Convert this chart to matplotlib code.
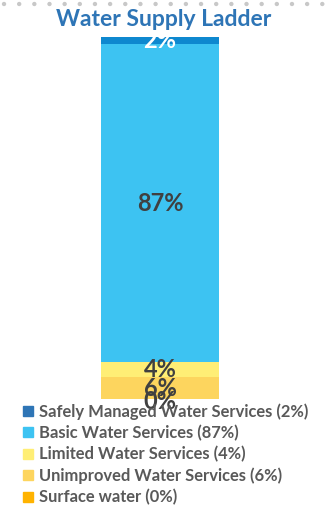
import matplotlib
matplotlib.use("Agg")
import matplotlib.pyplot as plt
from matplotlib.lines import Line2D

categories = ["Safely Managed Water Services", "Basic Water Services",
              "Limited Water Services", "Unimproved Water Services", "Surface water"]
values = [2, 87, 4, 6, 0]
bar_colors = ["#0E88CF", "#3DC3F2", "#FFEE75", "#FDD55E", "#FFB300"]
legend_colors = ["#2E75B6", "#3DC3F2", "#FFEE75", "#FDD55E", "#FFB300"]
label_colors = ["white", "#404040", "#404040", "#404040", "#404040"]

plt.rcParams['font.family'] = ['Lato', 'DejaVu Sans']

W, H = 328, 508
fig = plt.figure(figsize=(W / 100, H / 100), dpi=100)

# dotted top rule
fig.add_artist(Line2D([4 / W, 324 / W], [1 - 4 / H, 1 - 4 / H], transform=fig.transFigure,
                      color="#C8C8C8", lw=3.2, linestyle=(0, (0.01, 3.4)),
                      solid_capstyle="round", dash_capstyle="round"))

fig.text(164 / W, 1 - 19 / H, "Water Supply Ladder", ha="center", va="center",
         fontsize=16.5, fontweight="bold", color="#2E75B6")

ax = fig.add_axes([101 / W, 1 - 399 / H, 118 / W, 362 / H])
stack_order = list(reversed(range(len(values))))  # bottom: surface water
bottom = 0
total = sum(values)
for i in stack_order:
    ax.bar(0, values[i], width=1, bottom=bottom, color=bar_colors[i], linewidth=0)
    y = bottom + values[i] / 2
    off = -0.8 if values[i] == 0 else 0
    ax.text(0, y + off, f"{values[i]}%", ha="center", va="center",
            fontsize=17, fontweight="bold", color=label_colors[i])
    bottom += values[i]
ax.set_xlim(-0.5, 0.5)
ax.set_ylim(0, total)
ax.axis("off")

handles = [Line2D([], [], marker="s", linestyle="none", markersize=7,
                  markerfacecolor=c, markeredgecolor=c) for c in legend_colors]
labels = [f"{c} ({v}%)" for c, v in zip(categories, values)]
leg = fig.legend(handles, labels, loc="upper left", bbox_to_anchor=(22 / W, 1 - 403 / H),
                 frameon=False, handlelength=0.7, handletextpad=0.3, labelspacing=0.31,
                 borderaxespad=0, borderpad=0,
                 prop={"family": ["Lato", "DejaVu Sans"], "weight": "bold", "size": 11.9})
for t in leg.get_texts():
    t.set_color("#595959")

fig.savefig("out.png", dpi=100)
